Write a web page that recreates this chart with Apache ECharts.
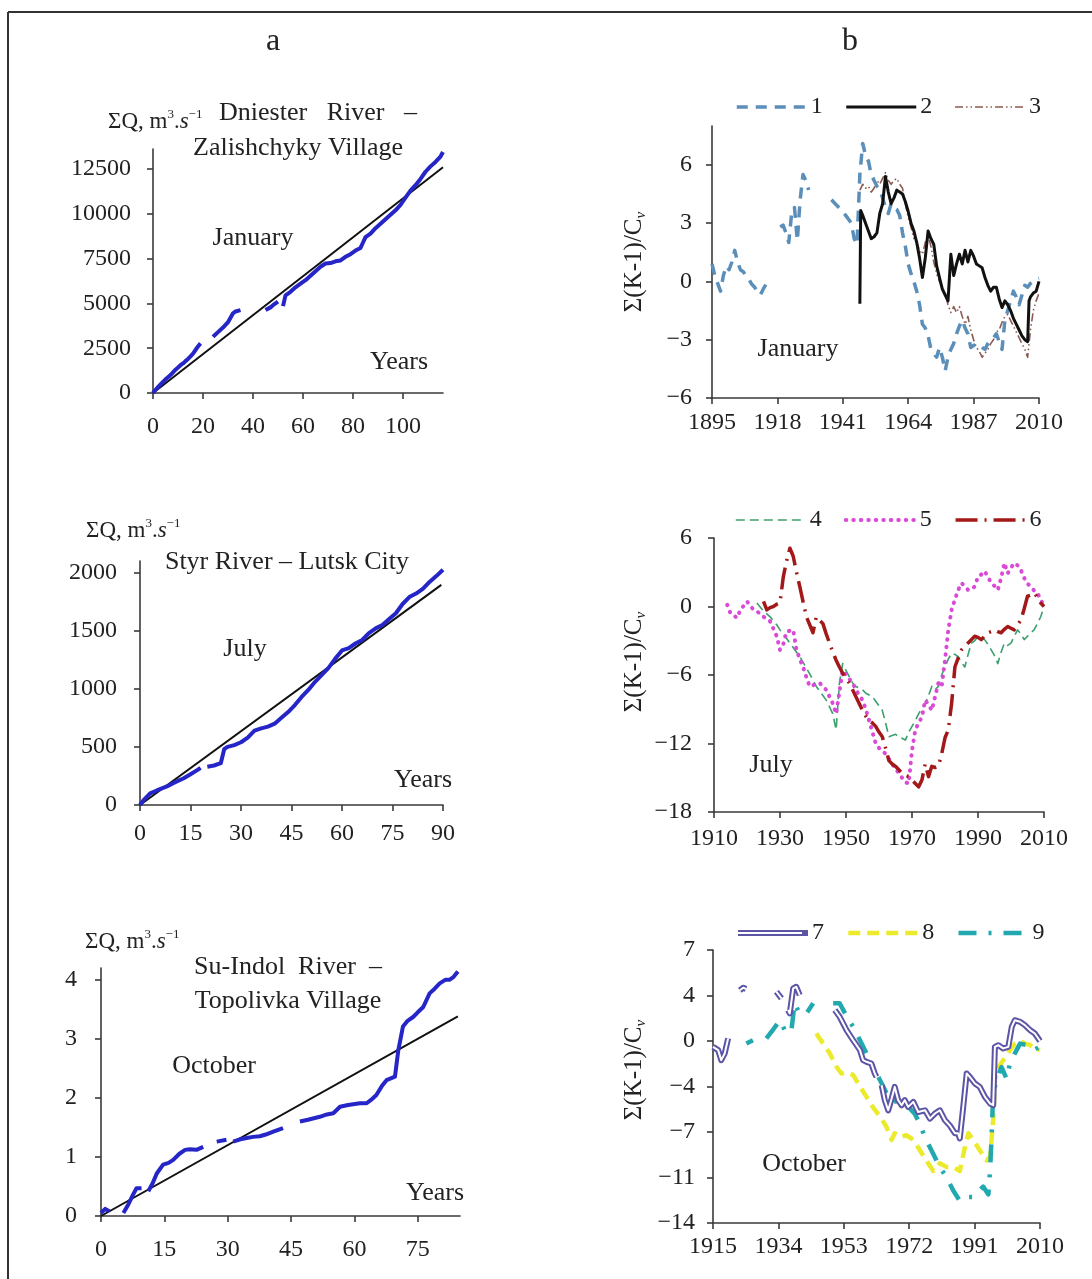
<!DOCTYPE html>
<html>
<head>
<meta charset="utf-8">
<script src="https://cdn.jsdelivr.net/npm/echarts@6/dist/echarts.min.js"></script>
<style>
html,body{margin:0;padding:0;background:#fff;}
#c{width:1092px;height:1279px;}
</style>
</head>
<body>
<div id="c"></div>
<script>
// ---------- DATA ----------
// Left column: cumulative discharge curves  [year index, ΣQ]
const a1Flow = [[0,0],[1,180],[2,330],[3,480],[4,620],[5,760],[6,880],[7,1000],[8,1150],[9,1300],[10,1420],[11,1550],[12,1650],[13,1780],[14,1900],[15,2050],[16,2200],[17,2400],[18,2600],[19,2770],[21,null],[24,3140],[26,3400],[28,3650],[30,3950],[31,4200],[32,4450],[33,4550],[35,4630],[40,null],[45,4630],[47,4780],[48,4900],[50,5100],[51,null],[52,4850],[53,5450],[55,5650],[57,5900],[59,6100],[61,6300],[63,6550],[65,6800],[67,7050],[69,7230],[71,7250],[73,7350],[75,7400],[77,7600],[79,7750],[81,7950],[83,8100],[84,8400],[85,8700],[87,8900],[89,9200],[91,9450],[93,9700],[95,9950],[97,10200],[99,10500],[101,10900],[103,11300],[105,11600],[107,11950],[109,12350],[111,12650],[113,12900],[115,13200],[116,13450]];
const a1Trend = [[0,0],[116,12600]];

const a2Flow = [[0,0],[1,40],[2,70],[3,100],[5,125],[8,160],[10,190],[13,230],[15,265],[17,300],[18,320],[19,null],[20,330],[22,340],[24,360],[25,480],[26,500],[28,515],[30,540],[32,580],[34,640],[36,660],[38,675],[40,700],[42,750],[44,800],[46,860],[48,930],[50,990],[52,1060],[54,1120],[56,1180],[58,1260],[60,1330],[62,1350],[64,1390],[66,1420],[68,1480],[70,1520],[72,1550],[74,1600],[76,1650],[78,1730],[80,1790],[82,1820],[84,1860],[86,1920],[88,1970],[90,2025]];
const a2Trend = [[0,0],[89.5,1895]];

const a3Flow = [[0,0.05],[1,0.12],[2,0.08],[4,null],[5.3,0.05],[6.5,0.2],[7.5,0.35],[8.4,0.47],[9.6,0.47],[10.4,null],[11.2,0.42],[12.2,0.55],[13.2,0.72],[14.7,0.87],[16,0.9],[17.1,0.95],[18.5,1.05],[19.9,1.12],[21,1.13],[22.6,1.12],[24.2,1.17],[25.8,null],[27.4,1.26],[29.7,1.29],[30.5,null],[31.3,1.26],[33,1.3],[34.5,1.32],[36,1.34],[37.6,1.35],[39,1.38],[40.8,1.43],[43.1,1.49],[45,null],[47.1,1.6],[49,1.63],[51.8,1.68],[53.5,1.72],[55,1.74],[56.6,1.85],[58.5,1.88],[61.3,1.91],[62.9,1.91],[64,1.97],[65.2,2.05],[66.5,2.2],[67.6,2.3],[69.6,2.36],[70.4,2.81],[71.5,3.21],[72.5,3.3],[73.9,3.37],[75,3.45],[76.3,3.54],[77.8,3.77],[79,3.85],[80.2,3.94],[81.5,4.0],[82.5,4.0],[83.5,4.05],[84.5,4.14]];
const a3Trend = [[0,0],[84.5,3.38]];

// Right column: residual mass curves  [year, Σ(K-1)/Cv]
const s1 = [[1895,0.9],[1896,0.3],[1897,-0.1],[1898,-0.5],[1899,0.3],[1900,0.8],[1901,0.6],[1902,1.0],[1903,1.6],[1904,1.0],[1905,0.6],[1906,0.5],[1907,0.3],[1908,0.1],[1909,-0.15],[1910,-0.3],[1911,-0.5],[1912,-0.7],[1913,-0.4],[1914,-0.15],[1917,null],[1919,2.8],[1920,2.9],[1921,2.5],[1922,2.0],[1923,3.5],[1924,3.8],[1925,2.1],[1926,4.2],[1927,5.5],[1928,5.2],[1929,4.7],[1933,null],[1937,4.2],[1939,3.9],[1941,3.6],[1942,3.4],[1944,3.0],[1945,2.2],[1946,1.9],[1947,5.5],[1948,7.1],[1949,6.5],[1950,6.2],[1951,5.5],[1952,5.2],[1953,4.9],[1954,4.7],[1955,4.3],[1956,3.8],[1957,3.5],[1958,4.0],[1959,3.8],[1960,3.7],[1961,3.4],[1962,2.5],[1963,1.8],[1964,0.9],[1965,0.4],[1966,0.0],[1967,-0.5],[1968,-1.2],[1969,-2.2],[1970,-2.4],[1971,-2.8],[1972,-3.5],[1973,-3.7],[1974,-3.9],[1975,-3.4],[1976,-3.9],[1977,-4.6],[1978,-3.9],[1979,-3.5],[1980,-3.2],[1981,-2.7],[1982,-2.3],[1983,-2.0],[1984,-2.4],[1985,-2.7],[1986,-3.4],[1987,-3.3],[1988,-3.2],[1989,-3.3],[1990,-3.4],[1991,-3.5],[1992,-3.2],[1993,-3.0],[1994,-2.9],[1995,-2.7],[1996,-3.1],[1997,-3.5],[1998,-2.0],[1999,-1.5],[2000,-1.0],[2001,-0.5],[2002,-0.8],[2003,-1.2],[2004,-0.7],[2005,-0.2],[2006,-0.3],[2007,-0.1],[2008,0.0],[2009,0.1],[2010,0.15]];
const s2 = [[1947,-1.15],[1947.3,3.65],[1948,3.4],[1949,3.0],[1950,2.6],[1951,2.2],[1952,2.3],[1953,2.5],[1954,3.5],[1955,4.0],[1956,5.4],[1957,4.6],[1958,4.0],[1959,4.3],[1960,4.7],[1961,4.6],[1962,4.5],[1963,4.1],[1964,3.6],[1965,3.0],[1966,2.6],[1967,2.0],[1968,1.2],[1969,0.2],[1970,1.2],[1971,2.6],[1972,2.2],[1973,1.9],[1974,0.8],[1975,0.2],[1976,-0.4],[1977,-0.7],[1978,-1.0],[1979,1.4],[1980,0.3],[1981,0.9],[1982,1.4],[1983,0.9],[1984,1.6],[1985,1.0],[1986,1.6],[1987,1.3],[1988,0.9],[1989,0.8],[1990,0.7],[1991,0.2],[1992,-0.2],[1993,-0.5],[1994,-0.3],[1995,-0.3],[1996,-0.9],[1997,-1.35],[1998,-1.0],[1999,-1.2],[2000,-1.5],[2001,-1.9],[2002,-2.2],[2003,-2.5],[2004,-2.8],[2005,-3.0],[2006,-3.1],[2006.5,-1.0],[2007,-0.8],[2008,-0.6],[2009,-0.5],[2010,0.0]];
const s3 = [[1947,4.7],[1948,5.0],[1949,4.8],[1950,4.9],[1951,4.6],[1952,4.8],[1953,5.2],[1954,5.0],[1955,5.3],[1956,5.6],[1957,5.2],[1958,5.0],[1959,5.2],[1960,5.3],[1961,5.0],[1962,4.8],[1963,4.0],[1964,3.3],[1965,2.8],[1966,2.2],[1967,2.0],[1968,1.6],[1969,1.4],[1970,2.0],[1971,2.4],[1972,1.8],[1973,1.0],[1974,0.4],[1975,0.0],[1976,-0.3],[1977,-0.6],[1978,-1.2],[1979,-1.6],[1980,-1.3],[1981,-1.6],[1982,-1.3],[1983,-1.8],[1984,-2.2],[1985,-1.8],[1986,-2.5],[1987,-3.0],[1988,-3.4],[1989,-3.6],[1990,-3.9],[1991,-3.7],[1992,-3.5],[1993,-3.2],[1994,-3.0],[1995,-2.6],[1996,-2.5],[1997,-2.1],[1998,-1.8],[1999,-1.7],[2000,-2.0],[2001,-2.3],[2002,-2.6],[2003,-2.9],[2004,-3.2],[2005,-3.5],[2006,-3.9],[2007,-2.5],[2008,-1.5],[2009,-1.0],[2010,-0.6]];

const s4 = [[1923,0.3],[1925,-0.4],[1927,-0.9],[1929,-1.6],[1930,-2.05],[1932,-2.8],[1933,-3.2],[1935,-4.0],[1936,-4.4],[1938,-5.4],[1939,-5.9],[1941,-7.0],[1943,-7.8],[1944,-8.2],[1945,-8.8],[1946,-9.4],[1947,-10.8],[1948,-6.7],[1949,-5.0],[1950,-5.6],[1952,-6.7],[1953,-7.0],[1955,-7.3],[1956,-7.6],[1958,-7.9],[1960,-8.7],[1961,-9.1],[1962,-10.2],[1963,-11.4],[1965,-11.2],[1966,-11.4],[1968,-11.7],[1969,-11.0],[1970,-10.5],[1971,-10.0],[1972,-9.4],[1974,-8.5],[1975,-7.8],[1976,-7.0],[1977,-7.3],[1978,-7.0],[1979,-6.0],[1980,-5.3],[1981,-4.6],[1982,-4.1],[1983,-4.2],[1984,-4.4],[1985,-4.9],[1986,-5.3],[1987,-4.2],[1988,-3.2],[1989,-3.0],[1990,-2.6],[1991,-2.8],[1992,-2.9],[1993,-3.3],[1994,-3.8],[1995,-4.3],[1996,-5.0],[1997,-4.0],[1998,-3.2],[1999,-3.4],[2000,-3.2],[2001,-2.6],[2002,-2.05],[2003,-2.4],[2004,-2.9],[2005,-2.6],[2006,-2.3],[2007,-2.05],[2008,-1.5],[2009,-0.9],[2010,0.0]];
const s5 = [[1914,0.15],[1915,-0.6],[1917,-1.0],[1918,-0.3],[1920,0.45],[1922,-0.3],[1924,-0.6],[1925,-0.9],[1927,-1.3],[1929,-2.6],[1930,-3.8],[1931,-3.3],[1932,-2.2],[1934,-2.05],[1935,-3.8],[1936,-4.6],[1937,-5.3],[1938,-6.2],[1939,-7.0],[1940,-6.9],[1942,-6.7],[1944,-7.3],[1945,-7.9],[1946,-8.5],[1947,-9.4],[1948,-7.5],[1949,-5.6],[1950,-6.0],[1952,-6.7],[1953,-7.3],[1955,-8.2],[1956,-9.0],[1957,-10.0],[1958,-11.0],[1959,-12.0],[1960,-12.4],[1962,-12.9],[1964,-13.8],[1966,-14.6],[1968,-15.4],[1969,-15.5],[1970,-12.6],[1971,-10.8],[1972,-10.2],[1973,-9.7],[1974,-8.2],[1975,-8.6],[1976,-9.1],[1977,-7.9],[1978,-6.7],[1979,-7.0],[1980,-4.7],[1981,-2.05],[1982,-0.3],[1983,0.6],[1984,1.45],[1985,2.05],[1986,1.8],[1987,1.45],[1988,1.5],[1989,1.75],[1990,2.6],[1991,2.8],[1992,3.1],[1993,2.6],[1994,2.05],[1995,1.8],[1996,1.45],[1997,2.5],[1998,3.8],[1999,2.9],[2000,3.4],[2001,3.8],[2002,3.6],[2003,3.2],[2004,2.5],[2005,2.0],[2006,1.75],[2007,1.4],[2008,1.2],[2009,0.6],[2010,0.0]];
const s6 = [[1925,0.45],[1926,-0.3],[1927,-0.1],[1928,0.0],[1929,0.2],[1930,0.3],[1931,2.6],[1932,4.0],[1933,5.1],[1934,4.4],[1935,3.0],[1936,1.75],[1937,0.4],[1938,-0.9],[1939,-1.6],[1940,-2.3],[1941,-0.9],[1942,-1.2],[1943,-1.5],[1944,-2.4],[1945,-3.2],[1946,-4.0],[1947,-4.7],[1948,-5.3],[1949,-5.85],[1950,-6.3],[1951,-6.7],[1952,-7.3],[1953,-7.9],[1954,-8.5],[1955,-9.1],[1956,-9.6],[1957,-10.0],[1958,-10.2],[1959,-10.5],[1960,-11.0],[1961,-11.4],[1962,-12.4],[1963,-13.5],[1964,-13.8],[1965,-14.0],[1966,-14.3],[1967,-14.6],[1968,-14.8],[1969,-14.9],[1970,-15.2],[1971,-15.5],[1972,-15.8],[1973,-15.2],[1974,-13.8],[1975,-14.9],[1976,-14.0],[1977,-14.1],[1978,-14.0],[1979,-12.9],[1980,-11.5],[1981,-10.8],[1982,-8.5],[1983,-5.3],[1984,-4.5],[1985,-3.8],[1986,-3.5],[1987,-3.2],[1988,-2.9],[1989,-2.6],[1990,-2.7],[1991,-2.9],[1992,-2.6],[1993,-2.3],[1994,-2.2],[1995,-2.05],[1996,-2.2],[1997,-2.3],[1998,-2.0],[1999,-1.75],[2000,-1.9],[2001,-2.05],[2002,-1.6],[2003,-1.2],[2004,-0.2],[2005,0.9],[2006,1.0],[2007,1.2],[2008,0.8],[2009,0.3],[2010,0.0]];

const s7 = [[1915,-0.45],[1916.5,-0.7],[1917.4,-1.47],[1918.4,-0.96],[1919.4,0.2],[1921,null],[1922.8,3.9],[1923.8,4.1],[1924.6,4.0],[1928,null],[1933.4,3.79],[1934.9,3.28],[1935.8,null],[1936.8,2.38],[1937.3,2.12],[1938.3,4.05],[1939.2,4.17],[1940.2,3.53],[1945,null],[1950.4,2.38],[1951.8,1.86],[1953.8,0.84],[1955.7,0.07],[1957.7,-0.7],[1958.6,-1.47],[1959.6,-1.6],[1961,-1.73],[1962,-2.5],[1962.5,-2.76],[1963.3,null],[1964,-3.4],[1964.9,-4.55],[1965.9,-5.33],[1966.9,-4.43],[1967.8,-3.53],[1968.8,-4.55],[1969.8,-4.94],[1970.7,-4.55],[1971.7,-5.07],[1973.2,-4.68],[1974.6,-5.46],[1976.6,-5.33],[1978,-5.97],[1979.5,-5.58],[1980.9,-5.33],[1982.4,-6.1],[1983.8,-6.5],[1985.3,-7.1],[1986.2,-7.1],[1986.7,-7.5],[1987.7,-5.07],[1988.7,-2.5],[1989.6,-2.76],[1991.1,-3.27],[1992.5,-3.53],[1994,-4.3],[1995.5,-4.81],[1996.4,-4.94],[1996.9,-0.45],[1997.9,-0.32],[1999.3,-0.57],[2000.8,-0.45],[2001.8,1.09],[2002.7,1.6],[2004.2,1.48],[2005.6,1.22],[2007.1,0.84],[2008.5,0.58],[2010,0.0]];
const s8 = [[1945,0.58],[1947,-0.2],[1948.9,-0.95],[1950.9,-2.0],[1952.3,-2.5],[1953.8,-2.4],[1955.7,-2.6],[1957.7,-3.5],[1959.6,-4.3],[1961.5,-5.1],[1963.5,-5.8],[1965.4,-6.6],[1966.9,-7.6],[1967.8,-7.1],[1969.3,-7.4],[1971.2,-7.25],[1973.2,-7.6],[1975.1,-8.4],[1977,-9.2],[1979,-10.0],[1980.9,-9.4],[1982.9,-9.7],[1984.8,-9.7],[1986.7,-10.0],[1988.2,-8.15],[1989.2,-7.1],[1990.6,-7.6],[1992.5,-8.4],[1994.5,-9.2],[1995.5,-8.9],[1996.4,-6.1],[1996.9,-3.0],[1997.9,-2.0],[1999.3,-1.5],[2001.3,-0.7],[2002.7,-0.2],[2004.2,0.05],[2005.6,-0.2],[2007.1,-0.3],[2008.5,-0.6],[2010,-0.7]];
const s9 = [[1924.7,-0.2],[1926.6,0.05],[1928.5,null],[1930.5,0.2],[1932.4,0.85],[1934.4,1.6],[1936.3,0.6],[1937.8,0.85],[1938.7,2.9],[1940.2,2.1],[1942.1,2.1],[1944.1,2.9],[1947,null],[1949.9,2.9],[1951.8,2.9],[1953.8,1.9],[1955.7,1.1],[1957.7,0.05],[1959.6,-0.95],[1961.5,-2.0],[1963.5,-3.0],[1965.4,-4.0],[1967.3,-4.7],[1969.3,-4.55],[1971.2,-4.9],[1973.6,-5.6],[1974.6,-6.1],[1976.6,-7.4],[1979,-8.7],[1980.9,-9.7],[1982.9,-10.5],[1984.8,-11.5],[1986.7,-12.3],[1988.7,-12.0],[1990.6,-12.0],[1993.5,-11.2],[1995,-11.8],[1995.5,-9.9],[1995.9,-7.6],[1996.4,-4.0],[1997.4,-3.0],[1998.8,-2.0],[2000.3,-2.9],[2001.3,-1.7],[2002.7,-0.95],[2004.2,-0.2],[2006.1,-0.3],[2008.1,-0.7],[2010,-0.45]];

// Tick values
const a1XTicks = [0,20,40,60,80,100];
const a1YTicks = [0,2500,5000,7500,10000,12500];
const a2XTicks = [0,15,30,45,60,75,90];
const a2YTicks = [0,500,1000,1500,2000];
const a3XTicks = [0,15,30,45,60,75];
const a3YTicks = [0,1,2,3,4];
const b1XTicks = [1895,1918,1941,1964,1987,2010];
const b1YTicks = [-6,-3,0,3,6];
const b2XTicks = [1910,1930,1950,1970,1990,2010];
const b2YTicks = [-18,-12,-6,0,6];
const b3XTicks = [1915,1934,1953,1972,1991,2010];
const b3YTicks = [-14,-10.5,-7,-3.5,0,3.5,7];

// ---------- CHART ----------
const FONT = '"Liberation Serif","DejaVu Serif",serif';
const AX = '#3a3a3a';
const TXT = '#222';

function fmtNum(v){
  const r = Math.sign(v)*Math.round(Math.abs(v));
  return r < 0 ? '\u2212' + Math.abs(r) : String(r);
}
function axis(gi, min, max, ticks, margin){
  return {
    gridIndex: gi, type: 'value', min: min, max: max,
    axisLine: {show: true, onZero: false, lineStyle: {color: AX, width: 1.6}},
    axisTick: {show: true, length: 6, customValues: ticks, lineStyle: {color: AX, width: 1.6}},
    axisLabel: {show: true, customValues: ticks, margin: margin, fontFamily: FONT, fontSize: 24, color: TXT, formatter: fmtNum},
    splitLine: {show: false}
  };
}
function prep(arr){ return arr.map(p => [p[0], p[1] === null ? '-' : p[1]]); }
function line(name, xi, data, color, width, type, cap){
  return {
    name: name, type: 'line', xAxisIndex: xi, yAxisIndex: xi,
    data: prep(data), showSymbol: false, symbol: 'none', connectNulls: false,
    lineStyle: {color: color, width: width, type: type || 'solid', cap: cap || 'butt', join: 'round'},
    itemStyle: {color: color}, silent: true, animation: false
  };
}

const grids = [
  {left: 153, top: 149, width: 290, height: 244},   // a1
  {left: 712, top: 126, width: 327, height: 272},   // b1
  {left: 140, top: 561, width: 303, height: 244},   // a2
  {left: 714, top: 538, width: 330, height: 274},   // b2
  {left: 101, top: 968, width: 359, height: 248},   // a3
  {left: 713, top: 950, width: 327, height: 273}    // b3
];

const xAxes = [
  axis(0, 0, 116, a1XTicks, 22),
  axis(1, 1895, 2010, b1XTicks, 13),
  axis(2, 0, 90, a2XTicks, 17),
  axis(3, 1910, 2010, b2XTicks, 15),
  axis(4, 0, 85, a3XTicks, 22),
  axis(5, 1915, 2010, b3XTicks, 12)
];
const yAxes = [
  axis(0, 0, 13620, a1YTicks, 22),
  axis(1, -6, 8, b1YTicks, 20),
  axis(2, 0, 2100, a2YTicks, 23),
  axis(3, -18, 6, b2YTicks, 22),
  axis(4, 0, 4.2, a3YTicks, 24),
  axis(5, -14, 7, b3YTicks, 18)
];

const BLUE = '#2525c8';
const STY = {
  '1': ['#5b8fb9', 3.5, [11,8], 'butt'],
  '2': ['#111111', 3, 'solid', 'butt'],
  '3': ['#8a5a50', 1.6, [8,3,1.5,3,1.5,3], 'butt'],
  '4': ['#3aa06e', 1.6, [9,5], 'butt'],
  '5': ['#d94ad6', 4, [0.5,7], 'round'],
  '6': ['#a31818', 3.5, [22,7,2,7], 'butt'],
  '7': ['#5c55a6', 6, 'solid', 'butt'],
  '8': ['#ebeb2c', 4.5, [12,7], 'butt'],
  '9': ['#22a9b0', 4.5, [18,12,3,12], 'butt']
};
function sline(name, xi, data){ const s = STY[name]; return line(name, xi, data, s[0], s[1], s[2], s[3]); }

const series = [
  line('a1t', 0, a1Trend, '#111', 2),
  line('a1f', 0, a1Flow, BLUE, 4),
  line('a2t', 2, a2Trend, '#111', 2),
  line('a2f', 2, a2Flow, BLUE, 4),
  line('a3t', 4, a3Trend, '#111', 2),
  line('a3f', 4, a3Flow, BLUE, 4),
  sline('3', 1, s3),
  sline('1', 1, s1),
  sline('2', 1, s2),
  sline('4', 3, s4),
  sline('5', 3, s5),
  sline('6', 3, s6),
  sline('8', 5, s8),
  sline('9', 5, s9),
  sline('7', 5, s7),
  line('7in', 5, s7, '#ffffff', 2)
];

const legendCommon = {
  orient: 'horizontal', itemWidth: 70, itemHeight: 14, itemGap: 22, padding: 0,
  selectedMode: false,
  itemStyle: {opacity: 0},
  textStyle: {fontFamily: FONT, fontSize: 24, color: TXT, padding: [0,0,0,-1]}
};
function legendData(names){
  return names.map(n => ({name: n, itemStyle: {opacity: 0},
    lineStyle: {color: STY[n][0], width: STY[n][1], type: STY[n][2], cap: STY[n][3]}}));
}
const legends = [
  Object.assign({data: legendData(['1','2','3']), left: 735, top: 95}, legendCommon),
  Object.assign({data: legendData(['4','5','6']), left: 735, top: 508}, legendCommon),
  Object.assign({data: legendData(['7','8','9']), left: 735, top: 921}, legendCommon)
];

function t(x, y, text, size, extra){
  return {type: 'text', x: x, y: y, silent: true,
    style: Object.assign({text: text, fill: TXT, font: (size||26) + 'px ' + FONT, align: 'center', verticalAlign: 'middle'}, extra || {})};
}
function unitLabel(x, y){
  return {type: 'text', x: x, y: y, silent: true,
    style: {text: '{n|ΣQ, m}{p|3}{n|.}{i|s}{p|\u22121}', align: 'left', verticalAlign: 'middle',
      rich: {n: {fontFamily: FONT, fontSize: 23, fill: TXT, lineHeight: 28},
             i: {fontFamily: FONT, fontSize: 23, fontStyle: 'italic', fill: TXT, lineHeight: 28},
             p: {fontFamily: FONT, fontSize: 13, fill: TXT, verticalAlign: 'top', lineHeight: 15}}}};
}
function yName(x, y){
  return {type: 'text', x: x, y: y, rotation: Math.PI/2, silent: true,
    style: {text: '{a|Σ(K-1)/C}{b|v}', align: 'center', verticalAlign: 'middle',
      rich: {a: {fontFamily: FONT, fontSize: 25, fill: TXT, lineHeight: 30},
             b: {fontFamily: FONT, fontSize: 15, fontStyle: 'italic', fill: TXT, verticalAlign: 'bottom', lineHeight: 14}}}};
}

const graphics = [
  {type: 'line', silent: true, shape: {x1: 8, y1: 12, x2: 1092, y2: 12}, style: {stroke: '#333', lineWidth: 2}},
  {type: 'line', silent: true, shape: {x1: 8, y1: 12, x2: 8, y2: 1279}, style: {stroke: '#333', lineWidth: 2}},
  t(273, 42, 'a', 32, {fontStyle: 'italic'}),
  t(850, 42, 'b', 32, {fontStyle: 'italic'}),
  // a1
  unitLabel(108, 122),
  t(318, 113, 'Dniester   River   –'),
  t(298, 148, 'Zalishchyky Village'),
  t(253, 238, 'January'),
  t(399, 362, 'Years'),
  // a2
  unitLabel(86, 531),
  t(287, 562, 'Styr River – Lutsk City'),
  t(245, 649, 'July'),
  t(423, 780, 'Years'),
  // a3
  unitLabel(85, 942),
  t(288, 967, 'Su-Indol  River  –'),
  t(288, 1001, 'Topolivka Village'),
  t(214, 1066, 'October'),
  t(435, 1193, 'Years'),
  // right panels
  yName(634, 262),
  t(798, 349, 'January'),
  yName(634, 662),
  t(771, 765, 'July'),
  yName(634, 1070),
  t(804, 1164, 'October'),
  // white core on the double-line legend icon of series 7 (style only)
  {type: 'line', silent: true, z: 200, shape: {x1: 738, y1: 933, x2: 802, y2: 933}, style: {stroke: '#fff', lineWidth: 2}}
];

const chart = echarts.init(document.getElementById('c'), null, {renderer: 'canvas'});
chart.setOption({
  animation: false,
  backgroundColor: '#ffffff',
  textStyle: {fontFamily: FONT},
  grid: grids,
  xAxis: xAxes,
  yAxis: yAxes,
  legend: legends,
  series: series,
  graphic: graphics
});
</script>
</body>
</html>
